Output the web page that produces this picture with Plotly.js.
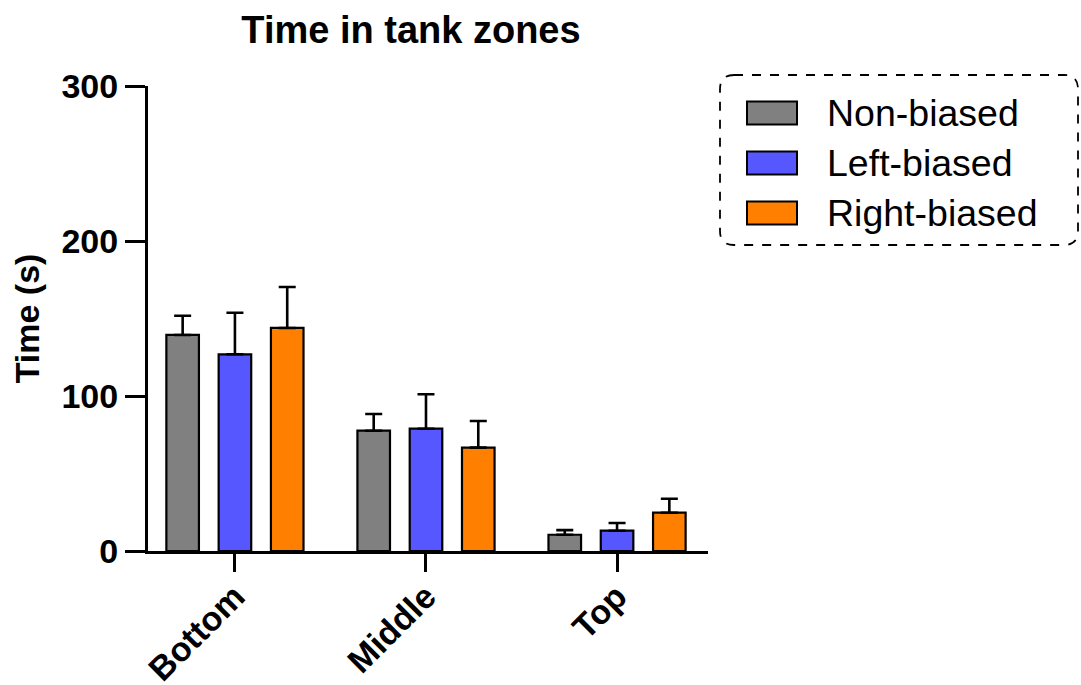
<!DOCTYPE html>
<html>
<head>
<meta charset="utf-8">
<script src="https://cdn.plot.ly/plotly-3.0.1.min.js"></script>
<style>html,body{margin:0;padding:0;background:#fff;}#chart{width:1081px;height:685px;}</style>
</head>
<body>
<div id="chart"></div>
<script>
// ---- data ----
const zones = ["Bottom", "Middle", "Top"];
const seriesNames = ["Non-biased", "Left-biased", "Right-biased"];
const seriesColors = ["#808080", "#5757FF", "#FF8000"];
const nonBiasedMean = [139.4, 77.6, 10.5];
const nonBiasedSem  = [12.4, 10.8, 3.0];
const leftBiasedMean = [126.9, 78.9, 13.1];
const leftBiasedSem  = [26.8, 22.2, 5.0];
const rightBiasedMean = [143.9, 66.7, 24.7];
const rightBiasedSem  = [26.4, 17.2, 9.0];
const yTicks = [0, 100, 200, 300];

const means = [nonBiasedMean, leftBiasedMean, rightBiasedMean];
const sems = [nonBiasedSem, leftBiasedSem, rightBiasedSem];

const FONT = "Liberation Sans, Arial, Helvetica, sans-serif";

const traces = seriesNames.map((name, i) => ({
  type: "bar",
  name: name,
  x: zones,
  y: means[i],
  marker: { color: seriesColors[i], line: { color: "#000", width: 2.2 } },
  error_y: {
    type: "data", symmetric: false,
    array: sems[i], arrayminus: sems[i].map(() => 0),
    color: "#000", thickness: 2.6, width: 8.5
  },
  showlegend: false,
  hoverinfo: "skip"
}));

// plot area in pixels
const W = 1081, H = 685;
const L = 148, R = 708, T = 86, B = 551;
const px = v => (v - L) / (R - L);
const py = v => (B - v) / (B - T);

// custom legend (dashed rounded box + swatches + labels)
const bx0 = 720, bx1 = 1078, by0 = 75, by1 = 245, rad = 14;
const rx = rad / (R - L), ry = rad / (B - T);
const X0 = px(bx0), X1 = px(bx1), Y0 = py(by1), Y1 = py(by0);
const boxPath = `M${X0 + rx},${Y1} L${X1 - rx},${Y1} Q${X1},${Y1} ${X1},${Y1 - ry} L${X1},${Y0 + ry} Q${X1},${Y0} ${X1 - rx},${Y0} L${X0 + rx},${Y0} Q${X0},${Y0} ${X0},${Y0 + ry} L${X0},${Y1 - ry} Q${X0},${Y1} ${X0 + rx},${Y1} Z`;

const shapes = [{
  type: "path", xref: "paper", yref: "paper", path: boxPath,
  line: { color: "#000", width: 1.8, dash: "dash" }, fillcolor: "rgba(0,0,0,0)"
}];
const annotations = [];
const rowY = [113, 163, 213];
seriesNames.forEach((name, i) => {
  shapes.push({
    type: "rect", xref: "paper", yref: "paper",
    x0: px(747), x1: px(797), y0: py(rowY[i] + 11.5), y1: py(rowY[i] - 11.5),
    fillcolor: seriesColors[i], line: { color: "#000", width: 2 }
  });
  annotations.push({
    xref: "paper", yref: "paper", x: px(825), y: py(rowY[i]),
    xanchor: "left", yanchor: "middle", showarrow: false,
    text: name, font: { family: FONT, size: 37.5, color: "#000" }
  });
});

const layout = {
  width: W, height: H,
  margin: { l: L, r: W - R, t: T, b: H - B, pad: 0 },
  paper_bgcolor: "#fff", plot_bgcolor: "#fff",
  barmode: "group", bargap: 0.179, bargroupgap: 0.377,
  title: {
    text: "Time in tank zones",
    font: { family: FONT, size: 38, color: "#000", weight: "bold" },
    x: (411) / W, xanchor: "center", y: 1 - 30 / H, yanchor: "middle"
  },
  xaxis: {
    type: "category", range: [-0.455, 2.476],
    showline: true, linecolor: "#000", linewidth: 3,
    ticks: "outside", ticklen: 18, tickwidth: 3, tickcolor: "#000",
    tickangle: -45, ticklabelstandoff: -9,
    tickfont: { family: FONT, size: 34, color: "#000", weight: "bold" },
    showgrid: false, zeroline: false, fixedrange: true
  },
  yaxis: {
    range: [0, 300], tickvals: yTicks, ticktext: yTicks.map(String),
    showline: true, linecolor: "#000", linewidth: 3,
    ticks: "outside", ticklen: 20, tickwidth: 3, tickcolor: "#000",
    tickfont: { family: FONT, size: 34, color: "#000", weight: "bold" },
    showgrid: false, zeroline: false, fixedrange: true,
    title: { text: "Time (s)", standoff: 12,
      font: { family: FONT, size: 34, color: "#000", weight: "bold" } }
  },
  shapes: shapes,
  annotations: annotations,
  showlegend: false
};

Plotly.newPlot("chart", traces, layout, { staticPlot: true, displayModeBar: false });
</script>
</body>
</html>
